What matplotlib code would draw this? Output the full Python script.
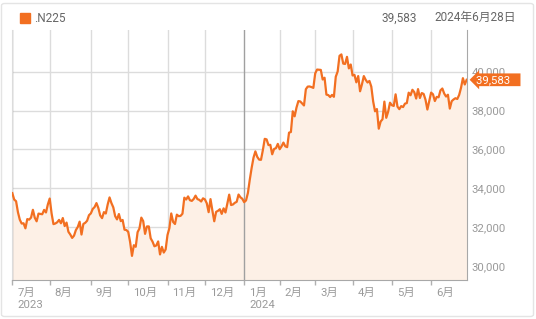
import matplotlib
matplotlib.use("Agg")
import matplotlib.pyplot as plt
import matplotlib.transforms as mtransforms
from matplotlib.patches import Rectangle, FancyBboxPatch
import numpy as np

plt.rcParams['font.family'] = ['Roboto', 'Noto Sans CJK JP', 'DejaVu Sans']

# daily closes of .N225, one list per month (2023-07 .. 2024-06)
jul23 = [33753, 33422, 33338, 32773, 32388, 32189, 32203, 31943, 32419, 32391,
         32493, 32896, 32490, 32304, 32700, 32682, 32668, 32891, 32759, 33172]
aug23 = [33476, 32707, 32159, 32192, 32254, 32377, 32204, 32473, 32059, 32238,
         31766, 31626, 31450, 31566, 31856, 32010, 32287, 31624, 32169, 32227,
         32333, 32619]
sep23 = [32710, 32939, 33036, 33241, 32991, 32606, 32467, 32776, 32706, 33168,
         33533, 33242, 33023, 32571, 32402, 32678, 32315, 32372, 31872, 31857]
oct23 = [31759, 31238, 30526, 31075, 30994, 31746, 31936, 32494, 32315, 31659,
         32040, 32042, 31430, 31259, 31019, 31062, 31269, 30601, 30991, 30697,
         30858]
nov23 = [31601, 31950, 32708, 32272, 32166, 32646, 32568, 32585, 32695, 33519,
         33424, 33585, 33388, 33354, 33452, 33625, 33447, 33408, 33321, 33486]
dec23 = [33431, 33231, 32775, 33445, 32858, 32307, 32791, 32843, 32926, 32686,
         32970, 32758, 33219, 33675, 33141, 33169, 33255, 33305, 33681, 33539,
         33464]
jan24 = [33288, 33377, 33763, 34441, 35049, 35577, 35901, 35619, 35477, 35466,
         35963, 36546, 36517, 36226, 36236, 35751, 36026, 36065, 36286]
feb24 = [36011, 36158, 36354, 36160, 36119, 36863, 36897, 37963, 37703, 38157,
         38487, 38470, 38363, 38262, 39098, 39233, 39239, 39208, 39166]
mar24 = [39910, 40109, 40097, 40090, 39598, 39688, 38820, 38797, 38695, 38807,
         38707, 39740, 40003, 40815, 40888, 40414, 40398, 40762, 40168, 40369]
apr24 = [39803, 39838, 39451, 39773, 38992, 39347, 39773, 39581, 39442, 39523,
         39232, 38471, 37961, 38079, 37068, 37438, 37552, 38460, 37628, 37934,
         38405]
may24 = [38274, 38236, 38835, 38202, 38073, 38229, 38179, 38356, 38385, 38920,
         38787, 39069, 38946, 38617, 39103, 38646, 38900, 38855, 38556, 38054,
         38487]
jun24 = [38923, 38837, 38490, 38703, 38683, 39038, 39134, 38876, 38720, 38814,
         38102, 38482, 38570, 38634, 38596, 38804, 39173, 39667, 39341, 39583]

months = [jul23, aug23, sep23, oct23, nov23, dec23,
          jan24, feb24, mar24, apr24, may24, jun24]
month_labels = ['7月\n2023', '8月', '9月', '10月', '11月', '12月',
                '1月\n2024', '2月', '3月', '4月', '5月', '6月']
y_ticks = [30000, 32000, 34000, 36000, 38000, 40000]
symbol = '.N225'
last_date = '2024年6月28日'

closes = np.concatenate(months)
x = np.arange(len(closes))
month_starts = np.cumsum([0] + [len(m) for m in months[:-1]])
last = closes[-1]

orange = '#f26f21'
fill_c = '#fdf0e6'
grid_c = '#dcdcdc'
text_c = '#9a9a9a'

fig = plt.figure(figsize=(5.36, 3.19), dpi=100)
ax = fig.add_axes([0.023, 0.121, 0.8476, 0.785])

ymin, ymax = 29265, 42144
ax.fill_between(x, closes, ymin, color=fill_c, lw=0, zorder=1)
ax.plot(x, closes, color=orange, lw=1.6, zorder=3, solid_joinstyle='round')
ax.set_xlim(0, len(closes) - 1)
ax.set_ylim(ymin, ymax)

# grid
for yt in y_ticks:
    ax.axhline(yt, color=grid_c, lw=1, zorder=0)
for i, xs in enumerate(month_starts):
    c = '#a0a0a0' if month_labels[i].count('\n') else grid_c
    ax.axvline(xs, color=c, lw=1, zorder=2 if c != grid_c else 0)

for s in ['top']:
    ax.spines[s].set_visible(False)
ax.spines['left'].set_color(grid_c)
ax.spines['right'].set_color('#a8a8a8')
ax.spines['bottom'].set_color('#a8a8a8')

ax.yaxis.tick_right()
ax.set_yticks(y_ticks)
ax.set_yticklabels([f'{v:,}' for v in y_ticks])
ax.tick_params(axis='y', length=0, pad=3.5, labelsize=8.2, labelcolor=text_c)

ax.set_xticks(month_starts)
ax.set_xticklabels(month_labels, ha='left', va='top', linespacing=1.25)
ax.tick_params(axis='x', length=3.5, width=1, color='#b0b0b0', pad=2,
               labelsize=8.2, labelcolor=text_c)
off = mtransforms.ScaledTranslation(3.5 / 72, 0, fig.dpi_scale_trans)
for lab in ax.get_xticklabels():
    lab.set_transform(lab.get_transform() + off)

# price tag
trans = mtransforms.blended_transform_factory(ax.transAxes, ax.transData)
ax.annotate(f'{last:,.0f}   ', xy=(1, last), xycoords=trans,
            xytext=(7, 0), textcoords='offset points', ha='left', va='center',
            color='white', fontsize=8.2, annotation_clip=False, zorder=5,
            bbox=dict(boxstyle='larrow,pad=0.12', fc=orange, ec='none'))

# header
fig.patches.append(Rectangle((19.5 / 536, 1 - 23.2 / 319), 10.2 / 536, 10.6 / 319,
                             transform=fig.transFigure, color=orange))
fig.text(34 / 536, 1 - 18 / 319, symbol, fontsize=8.5, color='#666666', va='center')
fig.text(417 / 536, 1 - 18 / 319, f'{last:,.0f}', fontsize=8.5, color='#666666',
         va='center', ha='right')
fig.text(516 / 536, 1 - 17 / 319, last_date, fontsize=8.5, color='#666666',
         va='center', ha='right')

# outer frame
fig.patches.append(FancyBboxPatch((1.5 / 536, 2.5 / 319), 532 / 536, 313 / 319,
                                  boxstyle='round,pad=0,rounding_size=0.006',
                                  transform=fig.transFigure, fc='none',
                                  ec='#e4e4e4', lw=1))

fig.savefig('out.png', dpi=100)
